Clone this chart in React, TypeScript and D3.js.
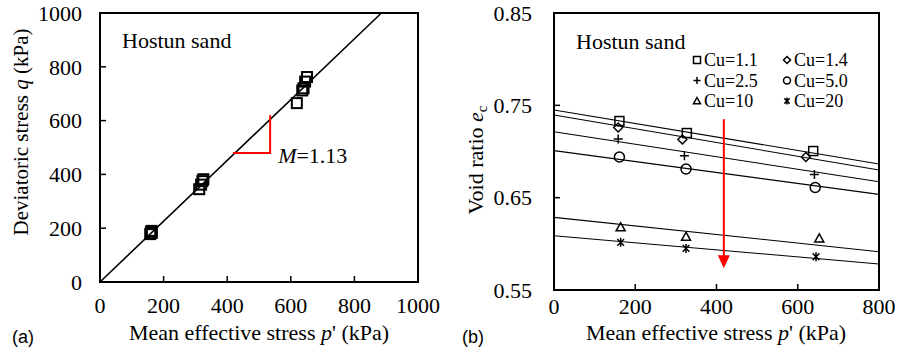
import React from "react";
import * as d3 from "d3";

// ---- Panel (a) data ----
const qpP = [158, 160, 162, 163, 312, 318, 322, 325, 619, 636, 640, 645, 651];
const qpQ = [178, 185, 190, 183, 345, 362, 375, 382, 665, 712, 720, 745, 762];
const slopeM = 1.13;
const axisTicksA = [0, 200, 400, 600, 800, 1000];

// ---- Panel (b) data ----
const cuLabels = ["Cu=1.1", "Cu=1.4", "Cu=2.5", "Cu=5.0", "Cu=10", "Cu=20"];
const cuSymbols = ["square", "diamond", "plus", "circle", "triangle", "star"];
const p_cu11 = [161, 327, 638];
const e_cu11 = [0.733, 0.72, 0.7005];
const p_cu14 = [158, 316, 620];
const e_cu14 = [0.726, 0.713, 0.694];
const p_cu25 = [158, 321, 641];
const e_cu25 = [0.7135, 0.6955, 0.675];
const p_cu50 = [161, 325, 643];
const e_cu50 = [0.694, 0.681, 0.661];
const p_cu10 = [164, 325, 653];
const e_cu10 = [0.618, 0.6077, 0.606];
const p_cu20 = [164, 325, 645];
const e_cu20 = [0.6016, 0.595, 0.586];
const cslStartE = [0.745, 0.7395, 0.7214, 0.7009, 0.6287, 0.6088]; // at p'=0
const cslEndE = [0.6865, 0.68, 0.6673, 0.6536, 0.5915, 0.5782]; // at p'=800
const cslP = [0, 800];
const arrowP = 418;
const arrowE = [0.735, 0.5735];
const xTicksB = [0, 200, 400, 600, 800];
const yTicksB = [0.55, 0.65, 0.75, 0.85];

const seriesP = [p_cu11, p_cu14, p_cu25, p_cu50, p_cu10, p_cu20];
const seriesE = [e_cu11, e_cu14, e_cu25, e_cu50, e_cu10, e_cu20];

const SERIF = "'Liberation Serif', 'Times New Roman', serif";
const SANS = "'Liberation Sans', Arial, sans-serif";

function Marker({ type, x, y, s, sw }: { type: string; x: number; y: number; s: number; sw: number }) {
  const h = s / 2;
  const common = { fill: "none", stroke: "#000", strokeWidth: sw };
  switch (type) {
    case "square":
      return <rect x={x - h} y={y - h} width={s} height={s} {...common} />;
    case "diamond":
      return <path d={`M${x},${y - h}L${x + h},${y}L${x},${y + h}L${x - h},${y}Z`} {...common} />;
    case "plus":
      return <path d={`M${x - h},${y}L${x + h},${y}M${x},${y - h}L${x},${y + h}`} {...common} />;
    case "circle":
      return <circle cx={x} cy={y} r={h} {...common} />;
    case "triangle":
      return <path d={`M${x},${y - h}L${x + h},${y + h * 0.8}L${x - h},${y + h * 0.8}Z`} {...common} />;
    case "star": {
      const k = h * 0.75;
      return (
        <path
          d={`M${x - k},${y - k}L${x + k},${y + k}M${x + k},${y - k}L${x - k},${y + k}M${x},${y - h}L${x},${y + h}`}
          {...common}
        />
      );
    }
    default:
      return null;
  }
}

export default function App() {
  // Panel (a) scales
  const xA = d3.scaleLinear().domain([0, 1000]).range([100, 418]);
  const yA = d3.scaleLinear().domain([0, 1000]).range([282, 13]);
  const pEnd = 1000 / slopeM;
  const lineA = d3.line<[number, number]>().x((d) => xA(d[0])).y((d) => yA(d[1]));

  // Panel (b) scales
  const xB = d3.scaleLinear().domain([0, 800]).range([554, 879]);
  const yB = d3.scaleLinear().domain([0.55, 0.85]).range([290, 13]);
  const lineB = d3.line<[number, number]>().x((d) => xB(d[0])).y((d) => yB(d[1]));

  const ax = { stroke: "#000", strokeWidth: 2, fill: "none" };
  const tickLen = 6;

  const ax0 = arrowP;
  const tipY = yB(arrowE[1]);
  const headH = 13;
  const headW = 6;

  return (
    <svg width={899} height={356} style={{ position: "absolute", left: 0, top: 0, background: "#fff" }}>
      <rect x={0} y={0} width={899} height={356} fill="#fff" />
      {/* ---------- Panel (a) ---------- */}
      <g>
        {/* fit line */}
        <path d={lineA([[0, 0], [pEnd, 1000]]) || ""} stroke="#000" strokeWidth={1.6} fill="none" />
        {/* slope triangle */}
        <path
          d={lineA([[418, 480], [535, 480], [535, 620]]) || ""}
          stroke="#ff0000"
          strokeWidth={2}
          fill="none"
        />
        <text x={xA(535) + 8} y={163} fontFamily={SERIF} fontSize={22}>
          <tspan fontStyle="italic">M</tspan>=1.13
        </text>
        {qpP.map((p, i) => (
          <Marker key={i} type="square" x={xA(p)} y={yA(qpQ[i])} s={10} sw={2} />
        ))}
        {/* ticks */}
        {axisTicksA.slice(1, -1).map((t) => (
          <g key={"ta" + t}>
            <line x1={xA(t)} x2={xA(t)} y1={282} y2={282 - tickLen} stroke="#000" strokeWidth={1.5} />
            <line x1={100} x2={100 + tickLen} y1={yA(t)} y2={yA(t)} stroke="#000" strokeWidth={1.5} />
          </g>
        ))}
        <rect x={100} y={13} width={318} height={269} {...ax} />
        {axisTicksA.map((t) => (
          <text key={"xla" + t} x={xA(t)} y={313} textAnchor="middle" fontFamily={SERIF} fontSize={22}>
            {t}
          </text>
        ))}
        {axisTicksA.map((t) => (
          <text
            key={"yla" + t}
            x={82}
            y={yA(t)}
            dy="0.35em"
            textAnchor="end"
            fontFamily={SERIF}
            fontSize={22}
          >
            {t}
          </text>
        ))}
        <text x={122} y={48} fontFamily={SERIF} fontSize={22}>
          Hostun sand
        </text>
        <text x={259} y={340} textAnchor="middle" fontFamily={SERIF} fontSize={22}>
          Mean effective stress <tspan fontStyle="italic">p</tspan>' (kPa)
        </text>
        <text
          transform={`translate(28,${132}) rotate(-90)`}
          textAnchor="middle"
          fontFamily={SERIF}
          fontSize={21}
        >
          Deviatoric stress <tspan fontStyle="italic">q</tspan> (kPa)
        </text>
        <text x={12} y={343} fontFamily={SANS} fontSize={18}>
          (a)
        </text>
      </g>

      {/* ---------- Panel (b) ---------- */}
      <g>
        {cslStartE.map((e0, i) => (
          <path
            key={"csl" + i}
            d={lineB([[cslP[0], e0], [cslP[1], cslEndE[i]]]) || ""}
            stroke="#000"
            strokeWidth={1.1}
            fill="none"
          />
        ))}
        {seriesP.map((ps, si) =>
          ps.map((p, j) => (
            <Marker
              key={"m" + si + "-" + j}
              type={cuSymbols[si]}
              x={xB(p)}
              y={yB(seriesE[si][j])}
              s={cuSymbols[si] === "circle" ? 10 : 9}
              sw={1.5}
            />
          ))
        )}
        {/* red arrow */}
        <line
          x1={xB(ax0)}
          x2={xB(ax0)}
          y1={yB(arrowE[0])}
          y2={tipY - headH + 1}
          stroke="#ff0000"
          strokeWidth={2}
        />
        <path
          d={`M${xB(ax0)},${tipY}L${xB(ax0) - headW},${tipY - headH}L${xB(ax0) + headW},${tipY - headH}Z`}
          fill="#ff0000"
        />
        {/* ticks */}
        {xTicksB.slice(1, -1).map((t) => (
          <line key={"txb" + t} x1={xB(t)} x2={xB(t)} y1={290} y2={290 - tickLen} stroke="#000" strokeWidth={1.5} />
        ))}
        {yTicksB.slice(1, -1).map((t) => (
          <line key={"tyb" + t} x1={554} x2={554 + tickLen} y1={yB(t)} y2={yB(t)} stroke="#000" strokeWidth={1.5} />
        ))}
        <rect x={554} y={13} width={325} height={277} {...ax} />
        {xTicksB.map((t) => (
          <text key={"xlb" + t} x={xB(t)} y={314} textAnchor="middle" fontFamily={SERIF} fontSize={22}>
            {t}
          </text>
        ))}
        {yTicksB.map((t) => (
          <text
            key={"ylb" + t}
            x={532}
            y={yB(t)}
            dy="0.35em"
            textAnchor="end"
            fontFamily={SERIF}
            fontSize={22}
          >
            {t.toFixed(2)}
          </text>
        ))}
        <text x={576} y={49} fontFamily={SERIF} fontSize={22}>
          Hostun sand
        </text>
        {/* legend */}
        {cuLabels.map((lab, i) => {
          const col = i % 2;
          const row = Math.floor(i / 2);
          const mx = col === 0 ? 697 : 787;
          const cy = 60 + row * 20.5;
          return (
            <g key={"lg" + i}>
              <Marker type={cuSymbols[i]} x={mx} y={cy} s={7} sw={1.5} />
              <text x={mx + 7} y={cy} dy="0.35em" fontFamily={SERIF} fontSize={18}>
                {lab}
              </text>
            </g>
          );
        })}
        <text x={716} y={340} textAnchor="middle" fontFamily={SERIF} fontSize={22}>
          Mean effective stress <tspan fontStyle="italic">p</tspan>' (kPa)
        </text>
        <text
          transform={`translate(483,${160}) rotate(-90)`}
          textAnchor="middle"
          fontFamily={SERIF}
          fontSize={22}
        >
          Void ratio <tspan fontStyle="italic">e</tspan>
          <tspan fontSize={15} dy="4">c</tspan>
        </text>
        <text x={462} y={343} fontFamily={SANS} fontSize={18}>
          (b)
        </text>
      </g>
    </svg>
  );
}
